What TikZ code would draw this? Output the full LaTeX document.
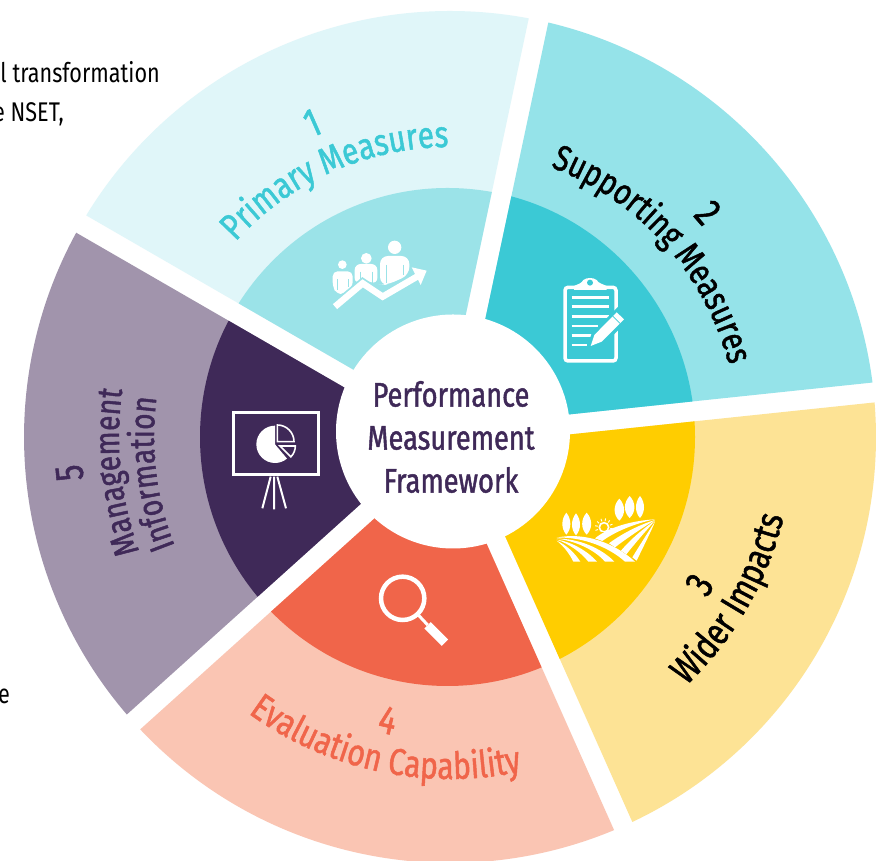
\documentclass[tikz,border=0pt]{standalone}
\usepackage{fontspec}
\usetikzlibrary{decorations.text}
\setmainfont[FakeStretch=0.8]{Fira Sans}
\newfontfamily\labelf[FakeStretch=0.8,FakeBold=1.3]{Fira Sans}
\definecolor{aPale}{HTML}{E0F6F9}
\definecolor{aMid}{HTML}{9BE3E8}
\definecolor{bMid}{HTML}{95E3E9}
\definecolor{bDark}{HTML}{3BC9D5}
\definecolor{cPale}{HTML}{FDE395}
\definecolor{cDark}{HTML}{FFCD00}
\definecolor{dPale}{HTML}{FAC5B3}
\definecolor{dDark}{HTML}{F0654A}
\definecolor{ePale}{HTML}{A194AC}
\definecolor{eDark}{HTML}{3F2958}
\newcommand\wedgeband[4]{%
  \fill[#4] ({#1+asin(10/#3)}:#3) arc[start angle={#1+asin(10/#3)}, end angle={#2-asin(10/#3)}, radius=#3] -- ({(#1+#2)/2}:17) -- cycle;}
\newcommand\innerband[3]{% the darker inner band keeps the wedge's edges, with its own slightly off-centre arc
  \begin{scope}
  \clip ({#1+asin(10/426)}:426) arc[start angle={#1+asin(10/426)}, end angle={#2-asin(10/426)}, radius=426] -- ({(#1+#2)/2}:17) -- cycle;
  \fill[#3] (-2.5,0) ellipse[x radius=247.5, y radius=249];
  \end{scope}}
\newcommand\onarc[6]{% text, colour, from angle, to angle, radius, size
  \path[decorate, decoration={text along path, text align=center, text color=#2,
     text={|\labelf\fontsize{#6}{#6}\selectfont|#1}}] (#3:#5) arc[start angle=#3, end angle=#4, radius=#5];}
\newcommand\numlabel[5]{% name, text, colour, position, rotation
  \node[text=#3, rotate=#5, font=\labelf\fontsize{40}{40}\selectfont, inner sep=0pt] (#1) at (#4) {#2};}
\newcommand\tree[3]{% x, top y, half width
  \fill[white] (#1,#2) .. controls (#1+#3,#2+20) and (#1+#3,#2+48) .. (#1,#2+66) .. controls (#1-#3,#2+48) and (#1-#3,#2+20) .. (#1,#2) -- cycle;}
\tikzset{zoomed/.style n args={2}{shift={(#1,#2)},scale=1/3}}
\begin{document}
\begin{tikzpicture}[x=1pt,y=1pt]
\useasboundingbox (0,0) rectangle (881,861);
\fill[white] (0,0) rectangle (881,861);
\begin{scope}
\clip (0,0) rectangle (881,861);
\node[anchor=base east, font=\fontsize{27}{27}\selectfont, inner sep=0pt] (frag1) at (160,778) {l transformation};
\node[anchor=base west, font=\fontsize{27}{27}\selectfont, inner sep=0pt] (frag2) at (-7,739) {e NSET,};
\node[anchor=base west, font=\fontsize{27}{27}\selectfont, inner sep=0pt] (frag3) at (-2,157) {e};
\end{scope}
\begin{scope}[shift={(450,424)}]
\clip (-450,-424) rectangle (431,437);
\wedgeband{78}{150}{426}{aPale}
\wedgeband{6}{78}{426}{bMid}
\wedgeband{-66}{6}{426}{cPale}
\wedgeband{-138}{-66}{426}{dPale}
\wedgeband{150}{222}{426}{ePale}
\innerband{78}{150}{aMid}
\innerband{6}{78}{bDark}
\innerband{-66}{6}{cDark}
\innerband{-138}{-66}{dDark}
\innerband{150}{222}{eDark}
\node[circle, fill=white, minimum size=234pt, inner sep=0pt] (hub) at (3,5.5) {};
\node[align=center, text=eDark, font=\labelf\fontsize{34}{43}\selectfont] (hubtext) at (1,0) {Performance\\Measurement\\Framework};
\onarc{Primary Measures}{bDark}{150}{78}{290}{37}
\onarc{Supporting Measures}{black}{78}{6}{288}{36}
\onarc{Wider Impacts}{black}{-70}{10}{343}{38}
\onarc{Evaluation Capability}{dDark}{218}{298}{342}{37.5}
\onarc{Management}{eDark}{222}{150}{331}{35}
\onarc{Information}{eDark}{223}{151}{296}{35}
\numlabel{n1}{1}{bDark}{113.7:343}{23.7}
\numlabel{n2}{2}{black}{41:342}{-49}
\numlabel{n3}{3}{black}{-30.6:290}{59.4}
\numlabel{n4}{4}{dDark}{257.6:290}{-12.4}
\numlabel{n5}{5}{eDark}{185.4:382}{96}
\end{scope}
% icons, written in reference pixels (y downwards)
\begin{scope}[yshift=861pt,yscale=-1]
% people and rising arrow
\begin{scope}[zoomed={320}{230}]
\fill[white] (224,52) circle (20);
\fill[white] (139,85) circle (16);
\fill[white] (67,104) circle (13);
\fill[white,rounded corners=8pt] (180,165) -- (180,78) -- (268,78) -- (268,135) -- (200,165) -- cycle;
\fill[white,rounded corners=6pt] (104,162) -- (104,102) -- (172,102) -- (172,162) -- (130,150) -- cycle;
\fill[white,rounded corners=5pt] (38,170) -- (38,124) -- (98,124) -- (98,170) -- (70,192) -- (50,192) -- cycle;
\draw[aMid,line width=1pt] (200,105) -- (200,160) (250,105) -- (250,135) (120,125) -- (120,160) (156,125) -- (156,160) (52,148) -- (52,180) (84,148) -- (84,172);
\draw[aMid,line width=10pt] (45,230) -- (128,160) -- (188,200) -- (300,135);
\draw[white,line width=6.5pt] (45,230) -- (128,160) -- (188,200) -- (296,137);
\fill[white] (275,112) -- (320,122) -- (302,165) -- cycle;
\end{scope}
% clipboard
\begin{scope}[zoomed={550}{270}]
\draw[white,line width=3.5pt,rounded corners=3pt] (45,52) rectangle (198,273);
\fill[white] (72,60) -- (72,48) .. controls (85,42) and (95,40) .. (100,30) .. controls (110,22) and (130,22) .. (140,30) .. controls (145,40) and (158,42) .. (170,48) -- (170,60) -- cycle;
\fill[bDark] (120,38) circle (9);
\draw[white,line width=2.5pt] (65,82) -- (178,82) (65,110) -- (178,110) (65,139) -- (178,139) (65,168) -- (145,168) (65,197) -- (130,197) (65,225) -- (112,225);
\fill[bDark] (108,240) -- (125,190) -- (205,110) -- (240,145) -- (160,225) -- cycle;
\fill[white] (122,228) -- (133,195) -- (200,127) -- (222,148) -- (155,215) -- cycle;
\draw[bDark,line width=0.8pt] (188,138) -- (210,160);
\end{scope}
% fields
\begin{scope}[zoomed={545}{490}]
\tree{64}{68}{16}
\tree{93}{70}{16}
\tree{125}{68}{18}
\tree{223}{26}{19}
\tree{254}{18}{19}
\tree{285}{18}{16}
% sun
\begin{scope}
\clip (140,70) rectangle (210,126);
\draw[white,line width=1.6pt] (177,112) circle (14);
\foreach \r in {0,30,...,330}{\draw[white,line width=0.9pt] (177,112) ++(\r+10:19) -- ++(\r+10:8);}
\end{scope}
% right field: wedges meeting at the far right
\fill[white] (330,88) .. controls (260,92) and (190,112) .. (150,145) -- (172,153) .. controls (210,125) and (270,100) .. (330,88) -- cycle;
\fill[white] (330,90) .. controls (280,105) and (225,135) .. (192,160) -- (210,172) .. controls (245,145) and (290,115) .. (330,90) -- cycle;
\fill[white] (330,92) .. controls (295,115) and (255,150) .. (228,182) -- (244,193) .. controls (270,160) and (305,120) .. (330,92) -- cycle;
\fill[white] (330,95) .. controls (310,125) and (285,165) .. (262,202) -- (275,212) .. controls (295,170) and (318,125) .. (330,95) -- cycle;
% left field: wedges meeting at the far left
\fill[white] (35,143) .. controls (120,125) and (210,160) .. (270,215) -- (240,215) .. controls (190,170) and (110,140) .. (35,143) -- cycle;
\fill[white] (35,146) .. controls (100,145) and (170,175) .. (208,215) -- (180,215) .. controls (150,180) and (90,152) .. (35,146) -- cycle;
\fill[white] (35,149) .. controls (80,155) and (130,185) .. (156,215) -- (130,215) .. controls (110,190) and (75,162) .. (35,149) -- cycle;
\fill[white] (35,152) .. controls (65,165) and (90,190) .. (106,215) -- (85,215) .. controls (75,195) and (60,172) .. (35,152) -- cycle;
\end{scope}
% magnifying glass
\begin{scope}[zoomed={365}{570}]
\draw[white,line width=4.5pt] (113,85) circle (65);
\draw[white,line width=3pt] (160,135) -- (188,165);
\draw[white,line width=9pt] (188,166) -- (240,218);
\end{scope}
% presentation board
\begin{scope}[zoomed={220}{400}]
\draw[white,line width=3pt] (40,38) rectangle (296,225);
\fill[white] (165,133) -- (165,77) arc[start angle=270, end angle=50, radius=56] -- cycle;
\draw[white,line width=1.6pt] (172,125) -- (172,75) arc[start angle=270, end angle=360, radius=50] -- cycle;
\draw[white,line width=1.6pt] (180,138) -- (226,138) arc[start angle=0, end angle=45, radius=46] -- cycle;
\draw[white,line width=2pt] (152,230) -- (127,325) (162,230) -- (162,328) (172,230) -- (198,325);
\end{scope}
\end{scope}
\end{tikzpicture}
\end{document}
